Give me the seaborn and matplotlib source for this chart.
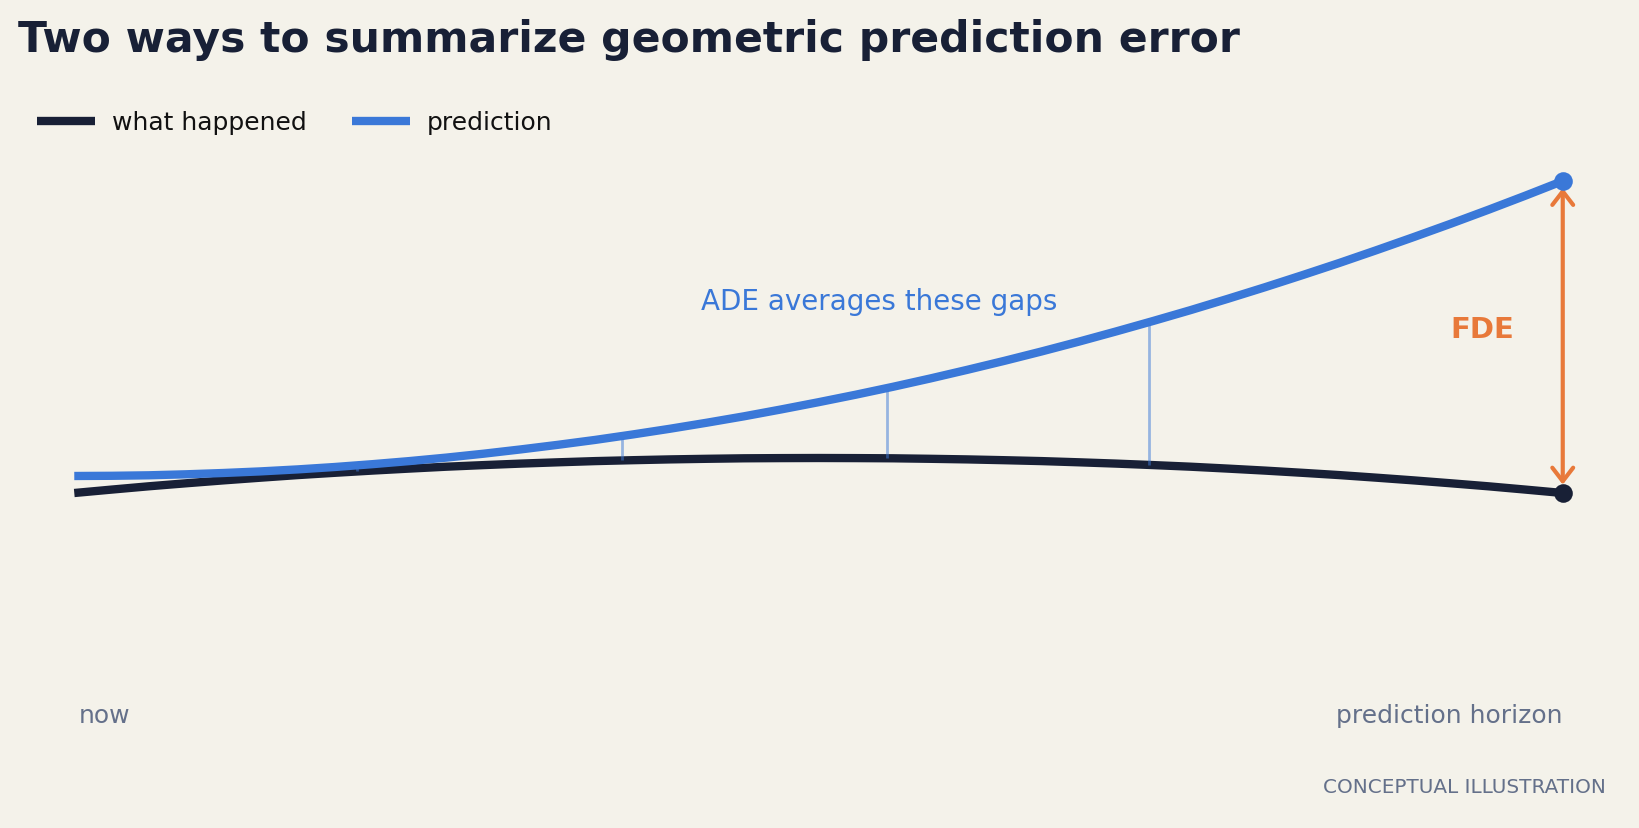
import matplotlib.pyplot as plt
import seaborn as sns


# time along the horizon (fraction of horizon) and lateral positions
t = [0.0, 0.025, 0.05, 0.075, 0.1, 0.125, 0.15, 0.175, 0.2, 0.225,
     0.25, 0.275, 0.3, 0.325, 0.35, 0.375, 0.4, 0.425, 0.45, 0.475,
     0.5, 0.525, 0.55, 0.575, 0.6, 0.625, 0.65, 0.675, 0.7, 0.725,
     0.75, 0.775, 0.8, 0.825, 0.85, 0.875, 0.9, 0.925, 0.95, 0.975, 1.0]
actual = [0.0, 0.034, 0.067, 0.097, 0.126, 0.153, 0.179, 0.202, 0.224, 0.244,
          0.263, 0.279, 0.294, 0.307, 0.319, 0.328, 0.336, 0.342, 0.347, 0.349,
          0.350, 0.349, 0.347, 0.342, 0.336, 0.328, 0.319, 0.307, 0.294, 0.279,
          0.263, 0.244, 0.224, 0.202, 0.179, 0.153, 0.126, 0.097, 0.067, 0.034, 0.0]
predicted = [0.170, 0.172, 0.177, 0.187, 0.200, 0.216, 0.236, 0.260, 0.288, 0.319,
             0.354, 0.393, 0.436, 0.482, 0.531, 0.585, 0.642, 0.703, 0.767, 0.836,
             0.908, 0.983, 1.062, 1.145, 1.232, 1.322, 1.416, 1.514, 1.616, 1.721,
             1.829, 1.942, 2.058, 2.178, 2.301, 2.429, 2.560, 2.694, 2.832, 2.974, 3.120]

# sampled gaps that ADE averages
gap_t = [0.19, 0.368, 0.546, 0.722]
gap_actual = [0.22, 0.33, 0.35, 0.28]
gap_pred = [0.28, 0.57, 1.05, 1.71]

TITLE = "Two ways to summarize geometric prediction error"
SERIES_LABELS = ["what happened", "prediction"]
START_LABEL = "now"
END_LABEL = "prediction horizon"
ADE_LABEL = "ADE averages these gaps"
FDE_LABEL = "FDE"
FOOTNOTE = "CONCEPTUAL ILLUSTRATION"

BG = "#f4f2ea"
INK = "#182036"
BLUE = "#3a78d8"
ORANGE = "#e8793a"
MUTED = "#64708a"

sns.set_theme(style="white", rc={"figure.facecolor": BG, "axes.facecolor": BG})
plt.rcParams["font.family"] = ["DejaVu Sans"]

fig = plt.figure(figsize=(16.4, 8.29), dpi=100)
ax = fig.add_axes([0, 0, 1, 1])
ax.set_xlim(-0.0499, 1.0519)
ax.set_ylim(-3.35, 4.94)

sns.lineplot(x=t, y=actual, ax=ax, color=INK, linewidth=6, label=SERIES_LABELS[0],
             solid_capstyle="butt", solid_joinstyle="round", zorder=2)
ax.vlines(gap_t, gap_actual, gap_pred, color=BLUE, alpha=0.5, linewidth=2, zorder=3)
sns.lineplot(x=t, y=predicted, ax=ax, color=BLUE, linewidth=6, label=SERIES_LABELS[1],
             solid_capstyle="butt", solid_joinstyle="round", zorder=4)

ax.scatter([t[-1]], [actual[-1]], s=180, color=INK, zorder=6, linewidths=0)
ax.scatter([t[-1]], [predicted[-1]], s=180, color=BLUE, zorder=6, linewidths=0)

ax.annotate("", xy=(t[-1], actual[-1]), xytext=(t[-1], predicted[-1]),
            arrowprops=dict(arrowstyle="<->,head_length=0.65,head_width=0.5",
                            color=ORANGE, lw=3, shrinkA=5, shrinkB=6, mutation_scale=15),
            zorder=5)

ax.text(0.541, 1.84, ADE_LABEL, color=BLUE, fontsize=20, ha="center", va="baseline")
ax.text(0.946, 1.557, FDE_LABEL, color=ORANGE, fontsize=21, fontweight="bold",
        ha="center", va="baseline")
ax.text(0.003, -2.293, START_LABEL, color=MUTED, fontsize=18, ha="left", va="baseline")
ax.text(t[-1], -2.293, END_LABEL, color=MUTED, fontsize=18, ha="right", va="baseline")
ax.axis("off")

ax.legend(loc="center left", bbox_to_anchor=(0.0226, 0.8513), bbox_transform=fig.transFigure,
          ncol=2, frameon=False, fontsize=18, labelcolor="#111111", borderpad=0,
          borderaxespad=0, handlelength=2.32, handletextpad=0.67, columnspacing=1.8)

fig.text(0.011, 0.9376, TITLE, fontsize=30.6, fontweight="bold", color=INK,
         ha="left", va="baseline")
fig.text(0.979, 0.0438, FOOTNOTE, fontsize=14.4, color=MUTED, ha="right", va="baseline")

fig.savefig("out.png", dpi=100, facecolor=BG)
